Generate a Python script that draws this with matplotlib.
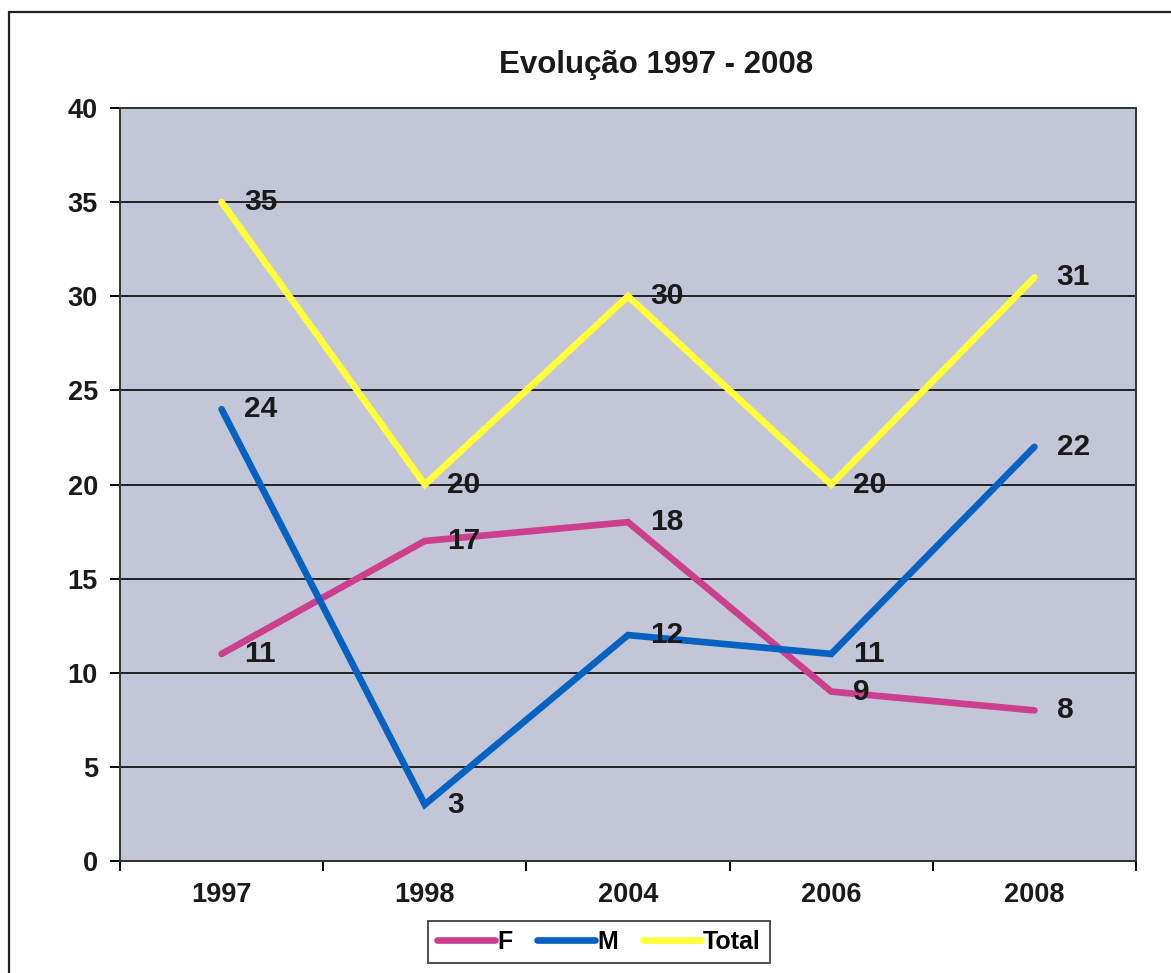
import matplotlib.pyplot as plt
from matplotlib.patches import Rectangle

# Chart data
years = ["1997", "1998", "2004", "2006", "2008"]
f_vals = [11, 17, 18, 9, 8]
m_vals = [24, 3, 12, 11, 22]
total_vals = [35, 20, 30, 20, 31]

series = [
    ("F", f_vals, "#CC3F8E"),
    ("M", m_vals, "#0562C2"),
    ("Total", total_vals, "#FFFF3A"),
]

plt.rcParams['font.family'] = ['Liberation Sans', 'DejaVu Sans']
plt.rcParams['font.weight'] = 'bold'

W, H = 1171, 973
fig = plt.figure(figsize=(W / 100, H / 100), dpi=100)
ax = fig.add_axes([120 / W, 1 - 861 / H, (1136 - 120) / W, (861 - 108) / H])
ax.set_facecolor("#C2C6D6")

x = list(range(len(years)))
for name, vals, col in series:
    ax.plot(x, vals, color=col, lw=4.8, label=name, solid_capstyle='round',
            solid_joinstyle='miter', zorder=3)
    for xi, v in zip(x, vals):
        ax.annotate(str(v), (xi, v), xytext=(16, 0), textcoords='offset points',
                    ha='left', va='center', fontsize=21.5, fontweight='bold',
                    color='#1a1a1a', zorder=4)

ax.set_xlim(-0.5, len(years) - 0.5)
ax.set_ylim(0, 40)
ax.set_yticks(range(0, 41, 5))
ax.yaxis.grid(True, color='#222222', lw=1.4)
ax.set_axisbelow(True)

# categories centred, ticks between them
ax.set_xticks(x)
ax.set_xticklabels(years)
ax.set_xticks([i - 0.5 for i in range(len(years) + 1)], minor=True)
ax.tick_params(axis='x', which='major', length=0, pad=15, labelsize=19.5)
ax.tick_params(axis='x', which='minor', length=7, width=1.4, direction='out')
ax.tick_params(axis='y', length=7, width=1.4, pad=9, labelsize=19.5)
for lab in ax.get_xticklabels() + ax.get_yticklabels():
    lab.set_fontweight('bold')
    lab.set_color('#1a1a1a')
for s in ax.spines.values():
    s.set_color('#333333')
    s.set_linewidth(1.4)

fig.text(656 / W, 1 - 65 / H, "Evolução 1997 - 2008", ha='center', va='center',
         fontsize=22.5, fontweight='bold', color='#1a1a1a')

leg = fig.legend(loc='center', bbox_to_anchor=(599 / W, 1 - 942 / H), ncol=3,
                 fontsize=18, frameon=True, fancybox=False, handlelength=2.3,
                 columnspacing=1.0, handletextpad=0.1, borderpad=0.35)
leg.get_frame().set_edgecolor('#222222')
leg.get_frame().set_linewidth(1.4)
for t in leg.get_texts():
    t.set_fontweight('bold')

# outer chart frame, cut off at right and bottom like the scan
fig.patches.append(Rectangle((9 / W, -0.05), 1.1, 1.05 - 12 / H, transform=fig.transFigure,
                             fill=False, edgecolor='#222222', lw=1.6))

fig.savefig("out.png", dpi=100)
